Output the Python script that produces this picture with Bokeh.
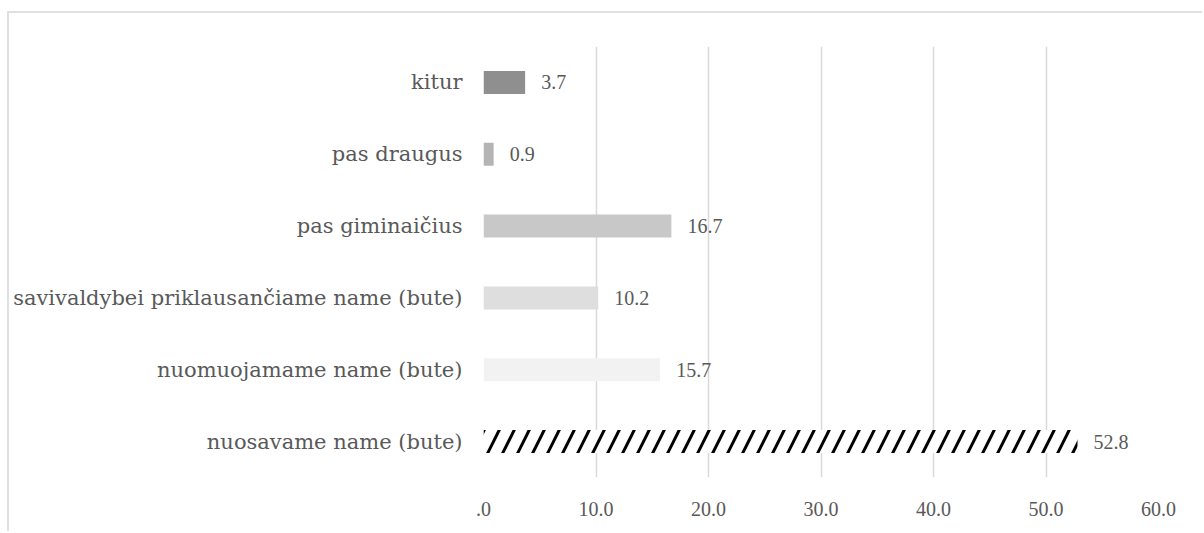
from bokeh.plotting import figure
from bokeh.models import ColumnDataSource, FixedTicker, CustomJSTickFormatter, LabelSet
from bokeh.embed import file_html
from bokeh.resources import INLINE

categories = ["nuosavame name (bute)", "nuomuojamame name (bute)",
              "savivaldybei priklausančiame name (bute)", "pas giminaičius",
              "pas draugus", "kitur"]
values = [52.8, 15.7, 10.2, 16.7, 0.9, 3.7]
labels = ["52.8", "15.7", "10.2", "16.7", "0.9", "3.7"]
colors = ["#ffffff", "#f2f2f2", "#dedede", "#c8c8c8", "#b4b4b4", "#8f8f8f"]
hatches = ["/", " ", " ", " ", " ", " "]
x_ticks = [0, 10, 20, 30, 40, 50, 60]

FONT = "Liberation Serif"
CAT_FONT = "DejaVu Serif"
TXT = "#595959"

src = ColumnDataSource(dict(cat=categories, val=values, lab=labels, col=colors, hat=hatches))

p = figure(width=1195, height=520, y_range=categories, x_range=(0, 60),
           output_backend="svg", toolbar_location=None,
           min_border_left=474, min_border_right=46, min_border_top=33, min_border_bottom=56)
p.styles = {"margin-left": "7px", "margin-top": "11px",
            "border-left": "2px solid #e0e0e0", "border-top": "2px solid #e0e0e0"}
p.outline_line_color = None
p.hbar(y="cat", right="val", left=0, height=0.32, source=src, fill_color="col",
       line_color=None, hatch_pattern="hat", hatch_color="#000000", hatch_scale=30, hatch_weight=3)

p.add_layout(LabelSet(x="val", y="cat", text="lab", source=src, x_offset=16, y_offset=0,
                      text_baseline="middle", text_font=FONT, text_font_size="20px",
                      text_color=TXT))

p.xaxis.ticker = FixedTicker(ticks=x_ticks)
p.xaxis.formatter = CustomJSTickFormatter(code="return tick === 0 ? '.0' : tick.toFixed(1);")
p.xaxis.axis_line_color = None
p.xaxis.major_tick_line_color = None
p.xaxis.minor_tick_line_color = None
p.xaxis.major_label_standoff = 18
p.xaxis.major_label_text_font = FONT
p.xaxis.major_label_text_font_size = "20px"
p.yaxis.axis_line_color = None
p.yaxis.major_tick_line_color = None
p.yaxis.major_label_standoff = 15
p.yaxis.major_label_text_font = CAT_FONT
p.yaxis.major_label_text_font_size = "21px"
for ax in (p.xaxis, p.yaxis):
    ax.major_label_text_color = TXT
p.xgrid.grid_line_color = "#d9d9d9"
p.xgrid.grid_line_width = 1.5
p.ygrid.grid_line_color = None

open("out.html", "w").write(file_html(p, INLINE))
